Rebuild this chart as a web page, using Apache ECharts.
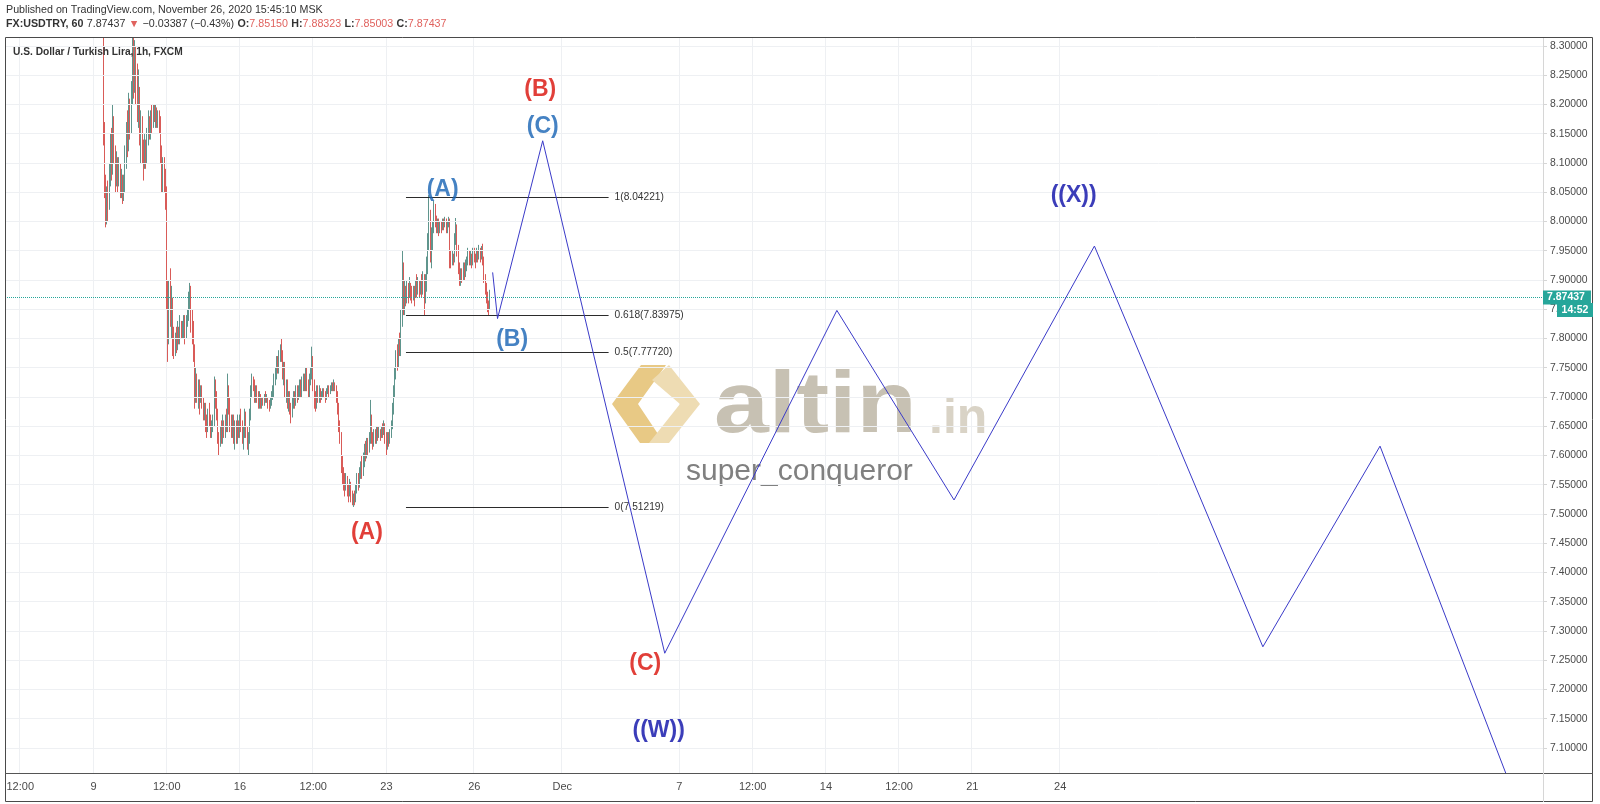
<!DOCTYPE html>
<html><head><meta charset="utf-8">
<script src="https://cdn.jsdelivr.net/npm/echarts@6/dist/echarts.min.js"></script>
<style>html,body{margin:0;padding:0;background:#fff}#c{width:1600px;height:804px}</style>
</head><body><div id="c"></div>
<script>
// ---------- data ----------
const firstTradingDay = '2020-11-04';
const hourCount = 1260;
const xTickLabels = [
  ['2020-11-04 12:00','12:00'],['2020-11-09 00:00','9'],['2020-11-11 12:00','12:00'],
  ['2020-11-16 00:00','16'],['2020-11-18 12:00','12:00'],['2020-11-23 00:00','23'],
  ['2020-11-26 00:00','26'],['2020-12-01 00:00','Dec'],['2020-12-07 00:00','7'],
  ['2020-12-09 12:00','12:00'],['2020-12-14 00:00','14'],['2020-12-16 12:00','12:00'],
  ['2020-12-21 00:00','21'],['2020-12-24 00:00','24']
];
const yTickValues = [7.10,7.15,7.20,7.25,7.30,7.35,7.40,7.45,7.50,7.55,7.60,7.65,7.70,7.75,7.80,7.85,7.90,7.95,8.00,8.05,8.10,8.15,8.20,8.25,8.30];
const yRange = [7.05726, 8.31538];
const firstCandle = '2020-11-09 08:00';
// [open, close, low, high] hourly
const candles = [
[8.33,8.15,8.13,8.36],[8.15,8.06,8.04,8.17],[8.06,8.01,7.99,8.08],[8.01,8.04,7.995,8.06],[8.04,8.03,8.00,8.07],
[8.03,8.08,8.02,8.10],[8.08,8.12,8.06,8.15],[8.12,8.10,8.07,8.16],[8.10,8.17,8.08,8.20],[8.17,8.12,8.10,8.18],
[8.12,8.08,8.05,8.13],[8.08,8.10,8.06,8.12],[8.10,8.07,8.05,8.11],[8.07,8.09,8.06,8.11],[8.09,8.05,8.04,8.10],
[8.05,8.07,8.04,8.09],[8.07,8.04,8.03,8.08],[8.04,8.06,8.035,8.08],[8.06,8.11,8.05,8.13],[8.11,8.15,8.09,8.17],
[8.15,8.13,8.11,8.19],[8.13,8.19,8.12,8.22],[8.19,8.16,8.14,8.21],[8.16,8.22,8.15,8.24],[8.22,8.27,8.20,8.33],
[8.27,8.25,8.21,8.34],[8.25,8.28,8.22,8.31],[8.28,8.24,8.20,8.30],[8.24,8.20,8.17,8.27],[8.20,8.22,8.16,8.26],
[8.22,8.15,8.13,8.23],[8.15,8.17,8.10,8.19],[8.17,8.12,8.10,8.18],[8.12,8.10,8.07,8.14],[8.10,8.13,8.09,8.15],
[8.13,8.11,8.09,8.14],[8.11,8.14,8.10,8.16],[8.14,8.17,8.13,8.19],[8.17,8.15,8.14,8.18],[8.15,8.18,8.14,8.19],
[8.18,8.17,8.15,8.20],[8.17,8.19,8.16,8.20],[8.19,8.18,8.17,8.20],[8.18,8.19,8.16,8.20],[8.19,8.17,8.16,8.195],
[8.17,8.18,8.16,8.19],[8.18,8.17,8.15,8.19],[8.17,8.12,8.10,8.18],[8.12,8.07,8.05,8.13],[8.07,8.09,8.05,8.11],
[8.09,8.07,8.05,8.11],[8.07,8.04,8.02,8.09],[8.04,7.87,7.85,8.06],[7.87,7.80,7.76,7.90],[7.80,7.88,7.79,7.90],
[7.88,7.84,7.82,7.92],[7.84,7.86,7.80,7.89],[7.86,7.80,7.77,7.87],[7.80,7.78,7.765,7.82],[7.78,7.80,7.77,7.81],
[7.80,7.79,7.775,7.82],[7.79,7.81,7.78,7.83],[7.81,7.80,7.79,7.82],[7.80,7.82,7.79,7.84],[7.82,7.81,7.80,7.83],
[7.81,7.82,7.80,7.83],[7.82,7.83,7.80,7.84],[7.83,7.81,7.79,7.84],[7.81,7.83,7.80,7.84],[7.83,7.84,7.82,7.85],
[7.84,7.86,7.83,7.88],[7.86,7.88,7.85,7.895],[7.88,7.83,7.81,7.89],[7.83,7.82,7.79,7.85],[7.82,7.78,7.76,7.83],
[7.78,7.70,7.68,7.79],[7.70,7.73,7.69,7.75],[7.73,7.71,7.69,7.74],[7.71,7.72,7.68,7.73],[7.72,7.70,7.67,7.73],
[7.70,7.71,7.69,7.72],[7.71,7.69,7.68,7.72],[7.69,7.67,7.66,7.70],[7.67,7.68,7.66,7.69],[7.68,7.66,7.64,7.69],
[7.66,7.65,7.63,7.67],[7.65,7.67,7.64,7.68],[7.67,7.66,7.65,7.69],[7.66,7.64,7.63,7.67],[7.64,7.65,7.63,7.66],
[7.65,7.66,7.64,7.67],[7.66,7.72,7.65,7.735],[7.72,7.70,7.68,7.73],[7.70,7.67,7.66,7.71],[7.67,7.63,7.62,7.68],
[7.63,7.62,7.60,7.64],[7.62,7.64,7.615,7.65],[7.64,7.63,7.62,7.66],[7.63,7.65,7.62,7.67],[7.65,7.64,7.63,7.66],
[7.64,7.66,7.63,7.67],[7.66,7.65,7.64,7.68],[7.65,7.71,7.64,7.74],[7.71,7.69,7.67,7.72],[7.69,7.65,7.64,7.70],
[7.65,7.64,7.63,7.67],[7.64,7.66,7.63,7.67],[7.66,7.64,7.62,7.67],[7.64,7.65,7.61,7.66],[7.65,7.63,7.62,7.66],
[7.63,7.65,7.62,7.67],[7.65,7.64,7.63,7.66],[7.64,7.66,7.63,7.67],[7.66,7.65,7.64,7.68],[7.65,7.63,7.62,7.66],
[7.63,7.64,7.61,7.65],[7.64,7.66,7.63,7.68],[7.66,7.64,7.63,7.675],[7.64,7.62,7.61,7.65],[7.62,7.63,7.60,7.64],
[7.63,7.67,7.62,7.68],[7.67,7.71,7.66,7.72],[7.71,7.73,7.70,7.74],[7.73,7.72,7.71,7.735],[7.72,7.70,7.69,7.73],
[7.70,7.71,7.69,7.72],[7.71,7.70,7.69,7.72],[7.70,7.69,7.68,7.71],[7.69,7.70,7.68,7.71],[7.70,7.69,7.68,7.705],
[7.69,7.695,7.68,7.70],[7.695,7.69,7.685,7.70],[7.69,7.70,7.685,7.705],[7.70,7.695,7.69,7.71],[7.695,7.70,7.69,7.705],
[7.70,7.69,7.68,7.70],[7.69,7.685,7.675,7.695],[7.685,7.69,7.68,7.70],[7.69,7.70,7.685,7.71],[7.70,7.71,7.695,7.72],
[7.71,7.73,7.70,7.74],[7.73,7.74,7.72,7.75],[7.74,7.76,7.73,7.77],[7.76,7.75,7.74,7.77],[7.75,7.77,7.74,7.78],
[7.77,7.78,7.76,7.79],[7.78,7.77,7.76,7.80],[7.77,7.74,7.73,7.78],[7.74,7.75,7.72,7.76],[7.75,7.71,7.70,7.76],
[7.71,7.72,7.69,7.73],[7.72,7.69,7.68,7.73],[7.69,7.70,7.675,7.71],[7.70,7.68,7.67,7.71],[7.68,7.67,7.655,7.69],
[7.67,7.69,7.665,7.70],[7.69,7.70,7.68,7.71],[7.70,7.69,7.68,7.71],[7.69,7.71,7.685,7.72],[7.71,7.70,7.69,7.72],
[7.70,7.715,7.695,7.72],[7.715,7.72,7.70,7.73],[7.72,7.71,7.70,7.73],[7.71,7.72,7.70,7.735],[7.72,7.73,7.71,7.74],
[7.73,7.72,7.71,7.74],[7.72,7.74,7.71,7.75],[7.74,7.72,7.71,7.751],[7.72,7.71,7.70,7.73],[7.71,7.73,7.70,7.74],
[7.73,7.74,7.72,7.75],[7.74,7.76,7.73,7.786],[7.76,7.72,7.71,7.77],[7.72,7.70,7.68,7.73],[7.70,7.69,7.675,7.71],
[7.69,7.71,7.68,7.72],[7.71,7.70,7.69,7.72],[7.70,7.71,7.69,7.72],[7.71,7.70,7.69,7.715],[7.70,7.705,7.695,7.71],
[7.705,7.71,7.70,7.715],[7.71,7.705,7.70,7.715],[7.705,7.70,7.69,7.71],[7.70,7.71,7.695,7.715],[7.71,7.715,7.705,7.72],
[7.715,7.71,7.70,7.72],[7.71,7.715,7.705,7.72],[7.715,7.72,7.71,7.725],[7.72,7.715,7.71,7.725],[7.715,7.72,7.71,7.73],
[7.72,7.715,7.71,7.725],[7.715,7.70,7.69,7.72],[7.70,7.68,7.67,7.71],[7.68,7.65,7.64,7.69],[7.65,7.63,7.62,7.66],
[7.63,7.59,7.57,7.64],[7.59,7.57,7.55,7.60],[7.57,7.56,7.54,7.58],[7.56,7.55,7.53,7.57],[7.55,7.56,7.54,7.57],
[7.56,7.545,7.53,7.565],[7.545,7.535,7.52,7.55],[7.535,7.55,7.53,7.56],[7.55,7.53,7.52,7.555],[7.53,7.52,7.515,7.54],
[7.52,7.53,7.512,7.535],[7.53,7.525,7.515,7.54],[7.525,7.54,7.52,7.55],[7.54,7.56,7.535,7.57],[7.56,7.55,7.54,7.57],
[7.55,7.57,7.545,7.58],[7.57,7.58,7.56,7.59],[7.58,7.57,7.56,7.60],[7.57,7.59,7.565,7.605],[7.59,7.61,7.58,7.62],
[7.61,7.60,7.59,7.625],[7.60,7.62,7.595,7.63],[7.62,7.61,7.60,7.63],[7.61,7.63,7.605,7.64],[7.63,7.66,7.62,7.695],
[7.66,7.63,7.62,7.67],[7.63,7.62,7.61,7.64],[7.62,7.635,7.615,7.645],[7.635,7.63,7.62,7.645],[7.63,7.64,7.62,7.65],
[7.64,7.635,7.625,7.65],[7.635,7.64,7.63,7.65],[7.64,7.635,7.625,7.645],[7.635,7.645,7.63,7.65],[7.645,7.64,7.63,7.655],
[7.64,7.65,7.635,7.66],[7.65,7.63,7.62,7.655],[7.63,7.62,7.60,7.64],[7.62,7.63,7.61,7.64],[7.63,7.625,7.615,7.64],
[7.625,7.635,7.62,7.645],[7.635,7.65,7.63,7.66],[7.65,7.68,7.645,7.69],[7.68,7.71,7.67,7.72],[7.71,7.74,7.70,7.75],
[7.74,7.77,7.73,7.78],[7.77,7.76,7.745,7.79],[7.76,7.79,7.75,7.80],[7.79,7.78,7.77,7.81],[7.78,7.83,7.77,7.85],
[7.83,7.90,7.82,7.95],[7.90,7.86,7.84,7.93],[7.86,7.88,7.84,7.90],[7.88,7.87,7.855,7.89],[7.87,7.885,7.86,7.90],
[7.885,7.875,7.86,7.895],[7.875,7.89,7.87,7.905],[7.89,7.88,7.865,7.895],[7.88,7.87,7.86,7.89],[7.87,7.885,7.865,7.89],
[7.885,7.875,7.855,7.89],[7.875,7.89,7.87,7.90],[7.89,7.88,7.87,7.91],[7.88,7.895,7.875,7.905],[7.895,7.88,7.87,7.90],
[7.88,7.89,7.875,7.90],[7.89,7.885,7.87,7.91],[7.885,7.90,7.875,7.915],[7.90,7.87,7.84,7.91],[7.87,7.89,7.86,7.91],
[7.89,7.92,7.88,7.94],[7.92,7.96,7.91,7.98],[7.96,8.01,7.95,8.045],[8.01,7.95,7.93,8.02],[7.95,7.97,7.92,7.99],
[7.97,7.99,7.95,8.00],[7.99,8.02,7.98,8.035],[8.02,8.00,7.99,8.03],[8.00,7.99,7.98,8.01],[7.99,8.00,7.98,8.005],
[8.00,7.985,7.975,8.005],[7.985,7.995,7.98,8.00],[7.995,7.99,7.98,8.00],[7.99,8.00,7.985,8.005],[8.00,7.995,7.985,8.005],
[7.995,8.00,7.99,8.008],[8.00,7.99,7.98,8.005],[7.99,7.995,7.98,8.00],[7.995,8.00,7.99,8.008],[8.00,7.94,7.92,8.005],
[7.94,7.93,7.92,7.95],[7.93,7.94,7.925,7.95],[7.94,7.935,7.925,7.945],[7.935,7.97,7.93,7.98],[7.97,7.99,7.96,8.006],
[7.99,7.95,7.94,7.995],[7.95,7.92,7.91,7.96],[7.92,7.90,7.89,7.93],[7.90,7.91,7.89,7.92],[7.91,7.905,7.895,7.92],
[7.905,7.92,7.90,7.93],[7.92,7.91,7.90,7.93],[7.91,7.925,7.905,7.935],[7.925,7.93,7.915,7.94],[7.93,7.945,7.925,7.955],
[7.945,7.935,7.925,7.95],[7.935,7.94,7.925,7.95],[7.94,7.93,7.92,7.945],[7.93,7.945,7.925,7.955],[7.945,7.94,7.93,7.955],
[7.94,7.935,7.92,7.945],[7.935,7.945,7.93,7.955],[7.945,7.94,7.93,7.95],[7.94,7.95,7.935,7.96],[7.95,7.94,7.93,7.955],
[7.94,7.95,7.935,7.958],[7.95,7.935,7.925,7.962],[7.935,7.905,7.895,7.94],[7.905,7.885,7.875,7.91],[7.885,7.87,7.86,7.895],
[7.87,7.855,7.845,7.88],[7.855,7.8515,7.84,7.865],[7.8515,7.87437,7.85003,7.88323]
];
const lastPrice = 7.87437;
const lastTime = '14:52';
const wavePath = [
  ['2020-11-26 15:00',7.913],['2020-11-26 19:00',7.834],['2020-11-30 08:00',8.138],
  ['2020-12-04 12:00',7.262],['2020-12-14 09:00',7.848],['2020-12-18 09:00',7.524],
  ['2020-12-25 04:00',7.958],['2021-01-01 22:00',7.273],['2021-01-07 22:00',7.616],
  ['2021-01-14 05:00',7.057]
];
const fibStart = '2020-11-23 16:00', fibEnd = '2020-12-02 14:00';
const fibLevels = [[1,8.04221],[0.618,7.83975],[0.5,7.77720],[0,7.51219]];
const waveLabels = [
  ['(B)','2020-11-30 06:00',8.2248,'#d90f08'],
  ['(C)','2020-11-30 08:00',8.1615,'#1763b4'],
  ['(A)','2020-11-24 22:00',8.0538,'#1763b4'],
  ['(B)','2020-11-27 07:00',7.7974,'#1763b4'],
  ['(A)','2020-11-20 08:00',7.4675,'#d90f08'],
  ['(C)','2020-12-03 20:00',7.2436,'#d90f08'],
  ['((W))','2020-12-04 07:00',7.129,'#0a0ca8'],
  ['((X))','2020-12-24 11:00',8.0436,'#0a0ca8']
];

// ---------- build ----------
function pad(n){return (n<10?'0':'')+n;}
const categories = [];
(function(){
  let t = Date.parse(firstTradingDay+'T00:00:00Z');
  while (categories.length < hourCount) {
    const d = new Date(t);
    const wd = d.getUTCDay();
    if (wd !== 0 && wd !== 6) {
      const ds = d.getUTCFullYear()+'-'+pad(d.getUTCMonth()+1)+'-'+pad(d.getUTCDate());
      for (let h=0; h<24 && categories.length<hourCount; h++) categories.push(ds+' '+pad(h)+':00');
    }
    t += 86400000;
  }
})();
const tickMap = {};
xTickLabels.forEach(([c,l])=>tickMap[c]=l);
const startIdx = categories.indexOf(firstCandle);
const candleData = new Array(startIdx).fill('-').concat(candles);

const FONT = 'Liberation Sans';
const chart = echarts.init(document.getElementById('c'), null, {renderer:'canvas'});
const option = {
  animation:false,
  backgroundColor:'#ffffff',
  grid:{left:5, right:57, top:37, bottom:31, containLabel:false},
  xAxis:{
    type:'category', data:categories, boundaryGap:true,
    axisLine:{show:false}, axisTick:{show:false},
    axisLabel:{
      interval:(i,v)=>tickMap[v]!==undefined,
      formatter:(v)=>tickMap[v]||'',
      color:'#4a4a4a', fontSize:11, fontFamily:FONT, margin:8
    },
    splitLine:{show:true, interval:(i,v)=>tickMap[v]!==undefined, lineStyle:{color:'#eef0f3',width:1}}
  },
  yAxis:{
    type:'value', position:'right', min:yRange[0], max:yRange[1], scale:true,
    axisLine:{show:true, lineStyle:{color:'#d6d6d6'}},
    axisTick:{show:true, customValues:yTickValues, length:4, lineStyle:{color:'#d6d6d6'}},
    axisLabel:{customValues:yTickValues, formatter:(v)=>v.toFixed(5), color:'#4a4a4a', fontSize:10.4, fontFamily:FONT, margin:7},
    splitLine:{show:false}
  },
  graphic:[
    // mask above plot (clips tall candles)
    {type:'rect', z:8, shape:{x:0,y:0,width:1600,height:37}, style:{fill:'#ffffff'}},
    {type:'text', z:10, x:6, y:10, style:{text:'Published on TradingView.com, November 26, 2020 15:45:10 MSK', fill:'#333', font:'10.7px '+FONT, textVerticalAlign:'middle'}},
    {type:'text', z:10, x:6, y:24, style:{
      text:'{b|FX:USDTRY, 60} {n|7.87437} {r|▼} {n|−0.03387 (−0.43%)} {b|O:}{r|7.85150} {b|H:}{r|7.88323} {b|L:}{r|7.85003} {b|C:}{r|7.87437}',
      textVerticalAlign:'middle',
      rich:{
        b:{fontFamily:FONT,fontSize:10.7,fontWeight:'bold',fill:'#333'},
        n:{fontFamily:FONT,fontSize:10.7,fill:'#333'},
        r:{fontFamily:FONT,fontSize:10.7,fill:'#e0625e'}
      }}},
    {type:'text', z:10, x:13, y:52, style:{text:'U.S. Dollar / Turkish Lira, 1h, FXCM', fill:'#333', font:'bold 10.2px '+FONT, textVerticalAlign:'middle'}},
    // watermark
    {type:'polygon', z:1, shape:{points:[[641,365],[666,365],[638,404],[664,443],[640,443],[612,404]]}, style:{fill:'#e8c985'}},
    {type:'polygon', z:1, shape:{points:[[669,365],[700,404],[669,443],[649,443],[680,404],[652,380]]}, style:{fill:'#eedcb3'}},
    {type:'text', z:1, x:714, y:452, scaleX:1.12, style:{text:'altin', fill:'#c7c1b3', font:'bold 88px '+FONT, textVerticalAlign:'bottom'}},
    {type:'text', z:1, x:929, y:444, style:{text:'.in', fill:'#d9d3c6', font:'bold 50px '+FONT, textVerticalAlign:'bottom'}},
    {type:'text', z:1, x:686, y:472, style:{text:'super_conqueror', fill:'#808080', font:'30px '+FONT, textVerticalAlign:'middle'}},
    // frame
    {type:'rect', z:20, shape:{x:5.5,y:37.5,width:1587,height:764}, style:{fill:'none', stroke:'#4a4a4a', lineWidth:1}},
    {type:'line', z:20, shape:{x1:5,y1:773.5,x2:1593,y2:773.5}, style:{stroke:'#555', lineWidth:1}},
    {type:'line', z:20, shape:{x1:1543.5,y1:773,x2:1543.5,y2:802}, style:{stroke:'#d6d6d6', lineWidth:1}},
    // countdown box
    {type:'rect', z:30, shape:{x:1557,y:303,width:36,height:14}, style:{fill:'#26a69a'}},
    {type:'text', z:31, x:1575, y:310, style:{text:lastTime, fill:'#fff', font:'bold 10.5px '+FONT, textAlign:'center', textVerticalAlign:'middle'}}
  ],
  series:[
    {type:'line', data:[], z:0, silent:true,
     markLine:{silent:true, symbol:'none', animation:false, label:{show:false},
       lineStyle:{color:'#eef0f3', width:1, type:'solid'},
       data:yTickValues.map(v=>({yAxis:v}))}},
    {type:'candlestick', data:candleData, large:false, barWidth:1, clip:true, z:3,
     itemStyle:{color:'#26a69a', color0:'#ef5350', borderColor:'#5f958d', borderColor0:'#d95b58', borderWidth:1},
     markLine:{silent:true, symbol:'none', animation:false,
       lineStyle:{color:'#26a69a', width:1, type:'dotted'},
       label:{show:true, position:'end', distance:0, formatter:lastPrice.toFixed(5), color:'#fff', backgroundColor:'#26a69a',
              fontFamily:FONT, fontSize:10.5, fontWeight:'bold', padding:[2,6,1,4]},
       data:[{yAxis:lastPrice}]}},
    {type:'line', data:[], z:4, silent:true,
     markLine:{silent:true, symbol:'none', animation:false,
       lineStyle:{color:'#2b2b2b', width:1, type:'solid'},
       label:{show:true, position:'end', distance:6, formatter:(p)=>p.name, color:'#333', fontFamily:FONT, fontSize:10.2},
       data:fibLevels.map(([l,p])=>[{name:l+'('+p.toFixed(5)+')', coord:[fibStart,p]},{coord:[fibEnd,p]}])}},
    {type:'line', data:wavePath, z:5, symbol:'none', clip:true, silent:true,
     lineStyle:{color:'#3a3ac8', width:1}},
    {type:'scatter', z:6, symbolSize:0, silent:true,
     data:waveLabels.map(([t,c,v,col])=>({name:t, value:[c,v], label:{color:col}})),
     label:{show:true, position:'inside', formatter:'{b}', fontFamily:FONT, fontSize:23, fontWeight:'bold'}}
  ]
};
chart.setOption(option);
</script>
</body></html>
